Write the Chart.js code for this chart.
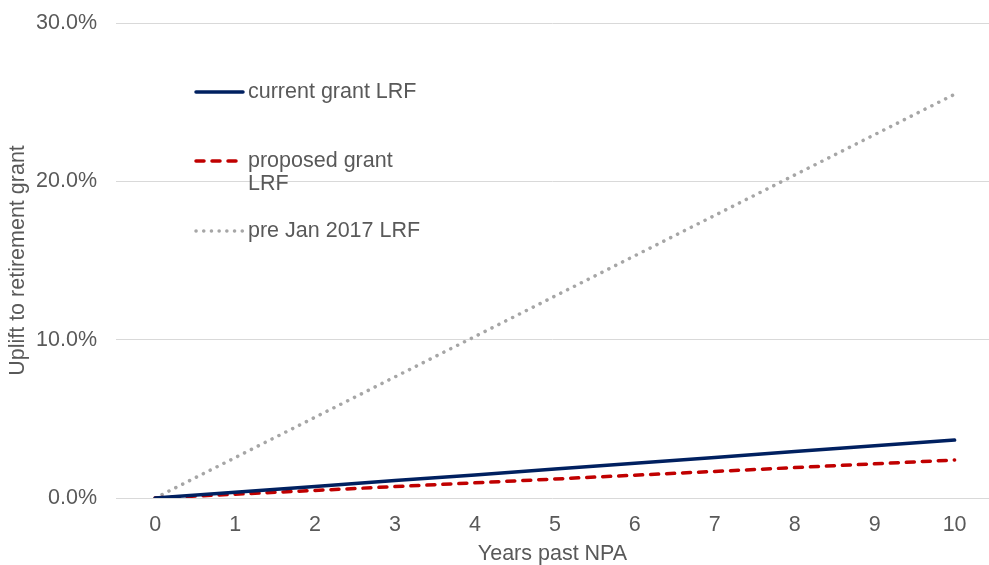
<!DOCTYPE html>
<html>
<head>
<meta charset="utf-8">
<script src="https://cdn.jsdelivr.net/npm/chart.js@4/dist/chart.umd.min.js"></script>
<style>
  html, body { margin: 0; padding: 0; background: #fff; }
  #wrap { width: 989px; height: 565px; position: relative; }
</style>
</head>
<body>
<div id="wrap"><canvas id="lrfChart"></canvas></div>
<script>
// Years past NPA
const years = [0, 1, 2, 3, 4, 5, 6, 7, 8, 9, 10];

// Uplift to retirement grant, in %
const currentGrant = [0, 0.37, 0.73, 1.10, 1.46, 1.83, 2.20, 2.56, 2.93, 3.30, 3.66];
const proposedGrant = [0, 0.24, 0.48, 0.72, 0.96, 1.20, 1.44, 1.68, 1.92, 2.16, 2.40];
const preJan2017 = [0, 2.55, 5.10, 7.65, 10.2, 12.75, 15.3, 17.85, 20.4, 22.95, 25.5];

const seriesLabels = ['current grant LRF', 'proposed grant LRF', 'pre Jan 2017 LRF'];
// how the legend text wraps inside the plot
const legendLines = [['current grant LRF'], ['proposed grant', 'LRF'], ['pre Jan 2017 LRF']];

const textColor = '#595959';
const fontFamily = '"Liberation Sans", Arial, sans-serif';
const fontSize = 21.5;

// Legend drawn inside the plot area, top-left, like the Excel original
const insideLegend = {
    id: 'insideLegend',
    afterDatasetsDraw(chart) {
        const ctx = chart.ctx;
        const left = chart.chartArea.left + 80;
        const rows = [92, 161, 231];
        ctx.save();
        chart.data.datasets.forEach((ds, i) => {
            const y = rows[i];
            ctx.beginPath();
            ctx.strokeStyle = ds.borderColor;
            ctx.lineWidth = ds.borderWidth;
            ctx.lineCap = ds.borderCapStyle || 'butt';
            ctx.setLineDash(ds.borderDash || []);
            ctx.moveTo(left, y);
            ctx.lineTo(left + 47, y);
            ctx.stroke();
            ctx.setLineDash([]);
            ctx.fillStyle = textColor;
            ctx.font = fontSize + 'px ' + fontFamily;
            ctx.textBaseline = 'middle';
            ctx.textAlign = 'left';
            legendLines[i].forEach((line, j) => {
                ctx.fillText(line, left + 52, y + j * 23);
            });
        });
        ctx.restore();
    }
};

const ctx = document.getElementById('lrfChart').getContext('2d');
const chart = new Chart(ctx, {
    type: 'line',
    data: {
        labels: years,
        datasets: [{
            label: seriesLabels[0],
            data: currentGrant,
            borderColor: '#002060',
            borderWidth: 3.5,
            borderCapStyle: 'round',
            pointRadius: 0
        }, {
            label: seriesLabels[1],
            data: proposedGrant,
            borderColor: '#C00000',
            borderWidth: 3.5,
            borderCapStyle: 'round',
            borderDash: [8, 8],
            pointRadius: 0
        }, {
            label: seriesLabels[2],
            data: preJan2017,
            borderColor: '#A6A6A6',
            borderWidth: 3.5,
            borderCapStyle: 'round',
            borderDash: [0.1, 7.6],
            pointRadius: 0
        }]
    },
    options: {
        responsive: true,
        maintainAspectRatio: false,
        animation: false,
        layout: {
            padding: { top: 23, right: 0, bottom: 0, left: 0 }
        },
        plugins: {
            legend: { display: false },
            tooltip: { enabled: false }
        },
        scales: {
            x: {
                type: 'linear',
                min: -0.49,
                max: 10.43,
                grid: { display: false, drawTicks: false },
                border: { display: false },
                ticks: {
                    stepSize: 1,
                    includeBounds: false,
                    color: textColor,
                    padding: 14,
                    font: { family: fontFamily, size: fontSize }
                },
                title: {
                    display: true,
                    text: 'Years past NPA',
                    color: textColor,
                    padding: { top: 0, bottom: -2 },
                    font: { family: fontFamily, size: fontSize }
                },
                afterFit: function(scale) {
                    scale.height = 67;
                }
            },
            y: {
                min: 0,
                max: 30,
                grid: { color: '#D9D9D9', lineWidth: 1, drawTicks: false },
                border: { display: false },
                ticks: {
                    stepSize: 10,
                    color: textColor,
                    padding: 19,
                    font: { family: fontFamily, size: fontSize },
                    callback: function(value) {
                        return value.toFixed(1) + '%';
                    }
                },
                title: {
                    display: true,
                    text: 'Uplift to retirement grant',
                    color: textColor,
                    padding: { top: 5, bottom: 0 },
                    font: { family: fontFamily, size: fontSize }
                },
                afterFit: function(scale) {
                    scale.width = 116;
                    scale.paddingTop = 0;
                    scale.paddingBottom = 0;
                }
            }
        }
    },
    plugins: [insideLegend]
});
</script>
</body>
</html>
